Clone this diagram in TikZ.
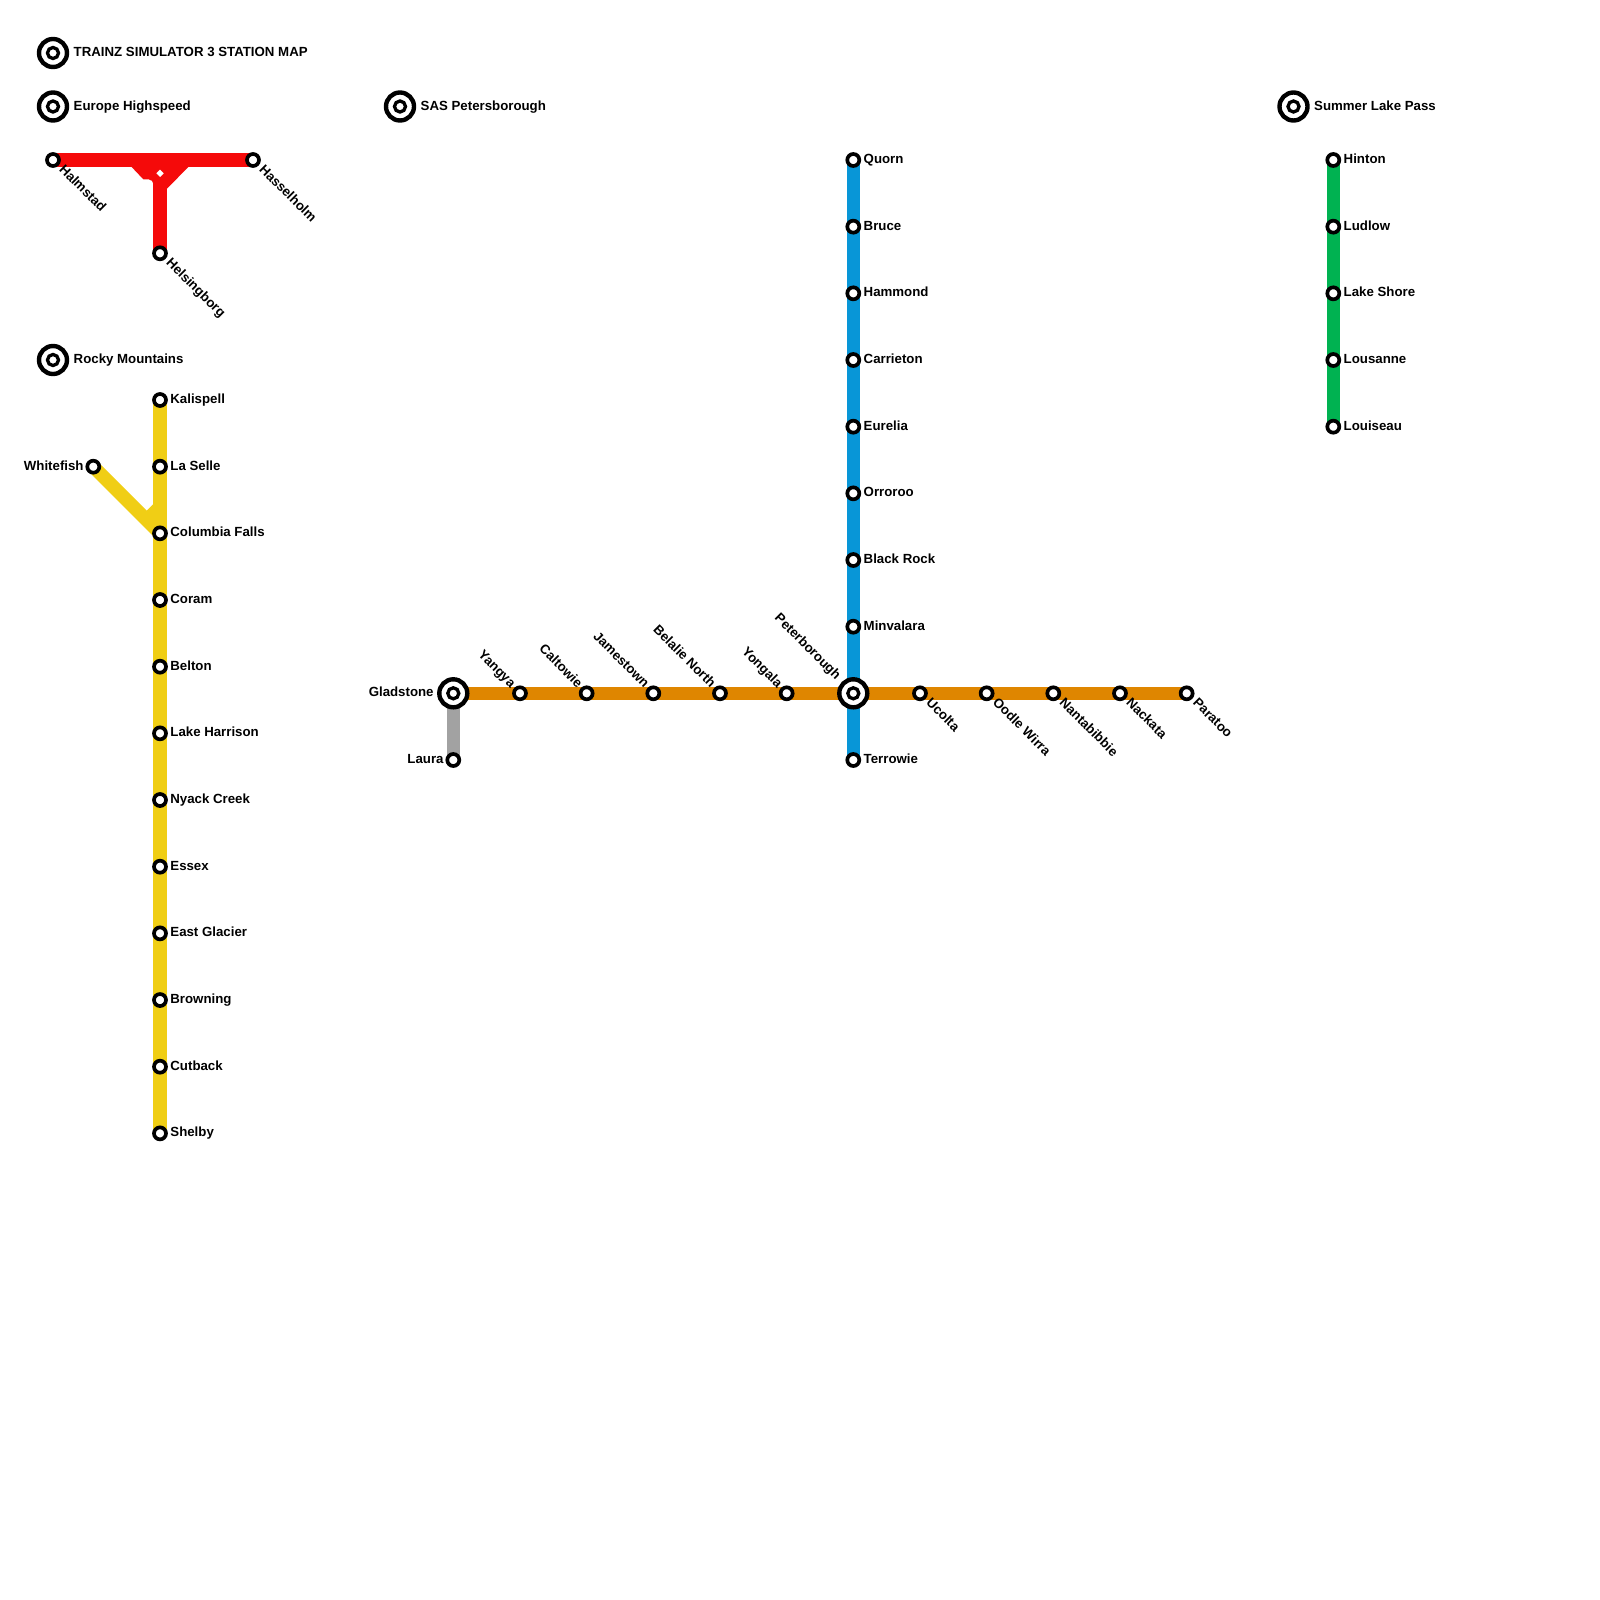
\documentclass[tikz,border=0pt]{standalone}
\usepackage{fontspec}
\setmainfont{Liberation Sans}
\usetikzlibrary{backgrounds}
\definecolor{redline}{HTML}{F50A0A}
\definecolor{yellowline}{HTML}{F0CE15}
\definecolor{blueline}{HTML}{0896D7}
\definecolor{orangeline}{HTML}{DF8600}
\definecolor{greyline}{HTML}{A2A2A2}
\definecolor{greenline}{HTML}{00B251}
\tikzset{
  stn/.style={circle,draw=black,fill=white,line width=1.05pt,inner sep=0,minimum size=1.2mm},
  hub/.style={circle,draw=black,fill=white,line width=1.25pt,inner sep=0,minimum size=2.8mm},
  hubin/.style={circle,draw=black,fill=white,line width=.94pt,inner sep=0,minimum size=1.1mm},
  stnname/.style={inner sep=0,font=\bfseries\fontsize{3.77pt}{4.5pt}\selectfont,text=black},
  lblr/.style={stnname,anchor=base west,xshift=.97mm,yshift=-.36mm},
  lbll/.style={stnname,anchor=base east,xshift=-.9mm,yshift=-.36mm},
  lblse/.style={stnname,anchor=base west,rotate=-45,xshift=1.05mm,yshift=-.33mm},
  lblnw/.style={stnname,anchor=base east,rotate=-45,xshift=-.95mm,yshift=-.33mm},
  track/.style={line width=3.8pt}
}
\begin{document}
\begin{tikzpicture}
[x=.01cm,y=-.01cm]
\useasboundingbox (0,0) rectangle (1600,1600);
% region titles
\foreach \id/\txt/\px/\py in {ttl/TRAINZ SIMULATOR 3 STATION MAP/53/53, eur/Europe Highspeed/53/106.5, roc/Rocky Mountains/53/360, sas/SAS Petersborough/400/106.5, sum/Summer Lake Pass/1293.5/106.5}{
  \node[hub] (\id) at (\px,\py) {};
  \node[hubin] (\id in) at (\id) {};
  \node[stnname,anchor=base west,xshift=2mm,yshift=-.36mm] (\id lbl) at (\id) {\txt};
}
% europe
\node[stn] (halmstad) at (53,160) {};
\node[stn] (hasselholm) at (253,160) {};
\node[stn] (helsingborg) at (160,253.3) {};
\node[lblse] (halmstad lbl) at (halmstad) {Halmstad};
\node[lblse] (hasselholm lbl) at (hasselholm) {Hasselholm};
\node[lblse] (helsingborg lbl) at (helsingborg) {Helsingborg};
% rocky mountains
\foreach \nm/\id [count=\i from 0] in {Kalispell/kal,La Selle/las,Columbia Falls/col,Coram/cor,Belton/bel,Lake Harrison/lak,Nyack Creek/nya,Essex/ess,East Glacier/eas,Browning/bro,Cutback/cut,Shelby/she}{
  \node[stn] (\id) at (160,400+66.67*\i) {};
  \node[lblr] (\id lbl) at (\id) {\nm};
}
\node[stn] (whitefish) at (93.3,466.7) {};
\node[lbll] (whitefish lbl) at (whitefish) {Whitefish};
% sas
\node[hub] (pet) at (853.3,693.3) {};
\node[hubin] (pet in) at (pet) {};
\node[lblnw,xshift=-1.15mm] (pet lbl) at (pet) {Peterborough};
\node[hub] (gla) at (453.3,693.3) {};
\node[hubin] (gla in) at (gla) {};
\node[lbll,xshift=-1mm] (gla lbl) at (gla) {Gladstone};
\node[stn] (lau) at (453.3,760) {};
\node[lbll] (lau lbl) at (lau) {Laura};
\node[stn] (ter) at (853.3,760) {};
\node[lblr] (ter lbl) at (ter) {Terrowie};
\foreach \nm/\id [count=\i from 0] in {Quorn/quo,Bruce/bru,Hammond/ham,Carrieton/car,Eurelia/eur2,Orroroo/orr,Black Rock/bla,Minvalara/min}{
  \node[stn] (\id) at (853.3,160+66.67*\i) {};
  \node[lblr] (\id lbl) at (\id) {\nm};
}
\foreach \nm/\id [count=\i from 1] in {Yangya/yan,Caltowie/cal,Jamestown/jam,Belalie North/bln,Yongala/yon}{
  \node[stn] (\id) at (453.3+66.67*\i,693.3) {};
  \node[lblnw] (\id lbl) at (\id) {\nm};
}
\foreach \nm/\id [count=\i from 1] in {Ucolta/uco,Oodle Wirra/ood,Nantabibbie/nan,Nackata/nac,Paratoo/par}{
  \node[stn] (\id) at (853.3+66.67*\i,693.3) {};
  \node[lblse] (\id lbl) at (\id) {\nm};
}
% summer lake
\foreach \nm/\id [count=\i from 0] in {Hinton/hin,Ludlow/lud,Lake Shore/lsh,Lousanne/lou,Louiseau/loi}{
  \node[stn] (\id) at (1333.3,160+66.67*\i) {};
  \node[lblr] (\id lbl) at (\id) {\nm};
}
% tracks go under the stations
\begin{pgfonlayer}{background}
\draw [track,redline] (halmstad.center) to (hasselholm.center);
\draw [track,redline] (160,170) to (helsingborg.center);
\fill [redline] (130.7,166) -- (143.3,179.3) -- (149,179.5) to[out=0,in=90] (153.3,184) -- (166.7,189) -- (189.3,166) -- cycle;
\fill [white] (160,169.6) -- (163.7,173.3) -- (160,177) -- (156.3,173.3) -- cycle;
\draw [track,yellowline] (kal.center) to (she.center);
\draw [track,yellowline] (whitefish.center) to (col.center);
\draw [track,yellowline] (160,506.7) to (146.7,520);
\draw [track,blueline] (quo.center) to (ter.center);
\draw [track,greyline] (gla.center) to (lau.center);
\draw [track,orangeline] (gla.center) to (par.center);
\draw [track,greenline] (hin.center) to (loi.center);
\end{pgfonlayer}
\end{tikzpicture}
\end{document}
